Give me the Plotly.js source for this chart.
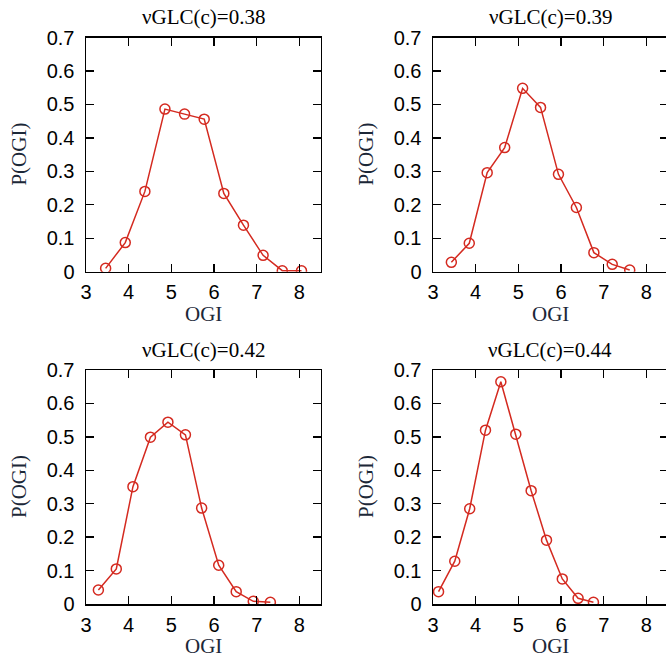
<!DOCTYPE html>
<html>
<head>
<meta charset="utf-8">
<script src="https://cdn.plot.ly/plotly-3.0.1.min.js"></script>
<style>
html,body{margin:0;padding:0;overflow:hidden;background:#fff;width:666px;height:657px;}
#chart{width:670px;height:657px;}
</style>
</head>
<body>
<div id="chart"></div>
<script>
// ---- data ----
var titles = ["νGLC(c)=0.38", "νGLC(c)=0.39", "νGLC(c)=0.42", "νGLC(c)=0.44"];
var ogi_038 = [3.46, 3.92, 4.38, 4.85, 5.31, 5.77, 6.23, 6.69, 7.15, 7.60, 8.05];
var p_038   = [0.010, 0.087, 0.240, 0.486, 0.471, 0.456, 0.234, 0.139, 0.049, 0.003, 0.003];
var ogi_039 = [3.43, 3.85, 4.27, 4.68, 5.10, 5.52, 5.94, 6.36, 6.77, 7.20, 7.61];
var p_039   = [0.028, 0.085, 0.296, 0.371, 0.548, 0.491, 0.291, 0.192, 0.057, 0.022, 0.005];
var ogi_042 = [3.29, 3.71, 4.10, 4.51, 4.92, 5.33, 5.71, 6.11, 6.52, 6.92, 7.32];
var p_042   = [0.042, 0.105, 0.351, 0.499, 0.544, 0.506, 0.287, 0.116, 0.037, 0.008, 0.005];
var ogi_044 = [3.13, 3.51, 3.86, 4.23, 4.59, 4.94, 5.30, 5.66, 6.03, 6.40, 6.76];
var p_044   = [0.037, 0.128, 0.285, 0.520, 0.665, 0.508, 0.339, 0.191, 0.075, 0.017, 0.005];
var xTitle = "OGI";
var yTitle = "P(OGI)";
var xTicks = [3, 4, 5, 6, 7, 8];
var yTicks = [0, 0.1, 0.2, 0.3, 0.4, 0.5, 0.6, 0.7];

// ---- layout geometry (pixels) ----
var W = 670, H = 657;
var red = "#d42a20";
var cols = [[86, 320.7], [433, 667.7]];
var rows = [[37.5, 271.7], [370, 604]];
function px(x){ return x / W; }
function py(y){ return (H - y) / H; }

var series = [[ogi_038, p_038], [ogi_039, p_039], [ogi_042, p_042], [ogi_044, p_044]];
var data = [];
var layout = {
  width: W, height: H,
  margin: {l: 0, r: 0, t: 0, b: 0},
  paper_bgcolor: "#fff", plot_bgcolor: "#fff",
  showlegend: false,
  annotations: []
};
var serif = "Liberation Serif, Times New Roman, serif";
var sans = "Liberation Sans, Arial, sans-serif";

for (var i = 0; i < 4; i++) {
  var r = Math.floor(i / 2), c = i % 2;
  var sfx = i === 0 ? "" : String(i + 1);
  data.push({
    x: series[i][0], y: series[i][1],
    xaxis: "x" + sfx, yaxis: "y" + sfx,
    type: "scatter", mode: "lines+markers",
    line: {color: red, width: 1.5},
    marker: {symbol: "circle-open", size: 10, color: red, line: {color: red, width: 1.5}}
  });
  var common = {
    showline: true, linecolor: "#000", linewidth: 1.5, mirror: "ticks",
    ticks: "inside", ticklen: 8, tickwidth: 1.3, tickcolor: "#000",
    showgrid: false, zeroline: false,
    tickfont: {family: sans, size: 20, color: "#000"},
    fixedrange: true
  };
  layout["xaxis" + sfx] = Object.assign({}, common, {
    domain: [px(cols[c][0]), px(cols[c][1])],
    range: [3, 8.5], tickmode: "array", tickvals: xTicks,
    anchor: "y" + sfx, ticklabelstandoff: 2
  });
  layout["yaxis" + sfx] = Object.assign({}, common, {
    domain: [py(rows[r][1]), py(rows[r][0])],
    range: [0, 0.7], tickmode: "array", tickvals: yTicks,
    anchor: "x" + sfx, ticklabelstandoff: 6
  });
  var cx = (cols[c][0] + cols[c][1]) / 2;
  layout.annotations.push({
    text: titles[i], xref: "paper", yref: "paper",
    x: px(cx), y: py(rows[r][0] - 20), xanchor: "center", yanchor: "middle",
    showarrow: false, font: {family: serif, size: 21, color: "#000"}
  });
  layout.annotations.push({
    text: xTitle, xref: "paper", yref: "paper", height: 18, valign: "middle",
    x: px(cx), y: py(rows[r][1] + 42), xanchor: "center", yanchor: "middle",
    showarrow: false, font: {family: serif, size: 21, color: "#1c2838"}
  });
  layout.annotations.push({
    text: yTitle, xref: "paper", yref: "paper", textangle: -90,
    x: px(cols[c][0] - 67), y: py((rows[r][0] + rows[r][1]) / 2), xanchor: "center", yanchor: "middle",
    showarrow: false, font: {family: serif, size: 21, color: "#1c2838"}
  });
}

Plotly.newPlot("chart", data, layout, {displayModeBar: false, staticPlot: true});
</script>
</body>
</html>
